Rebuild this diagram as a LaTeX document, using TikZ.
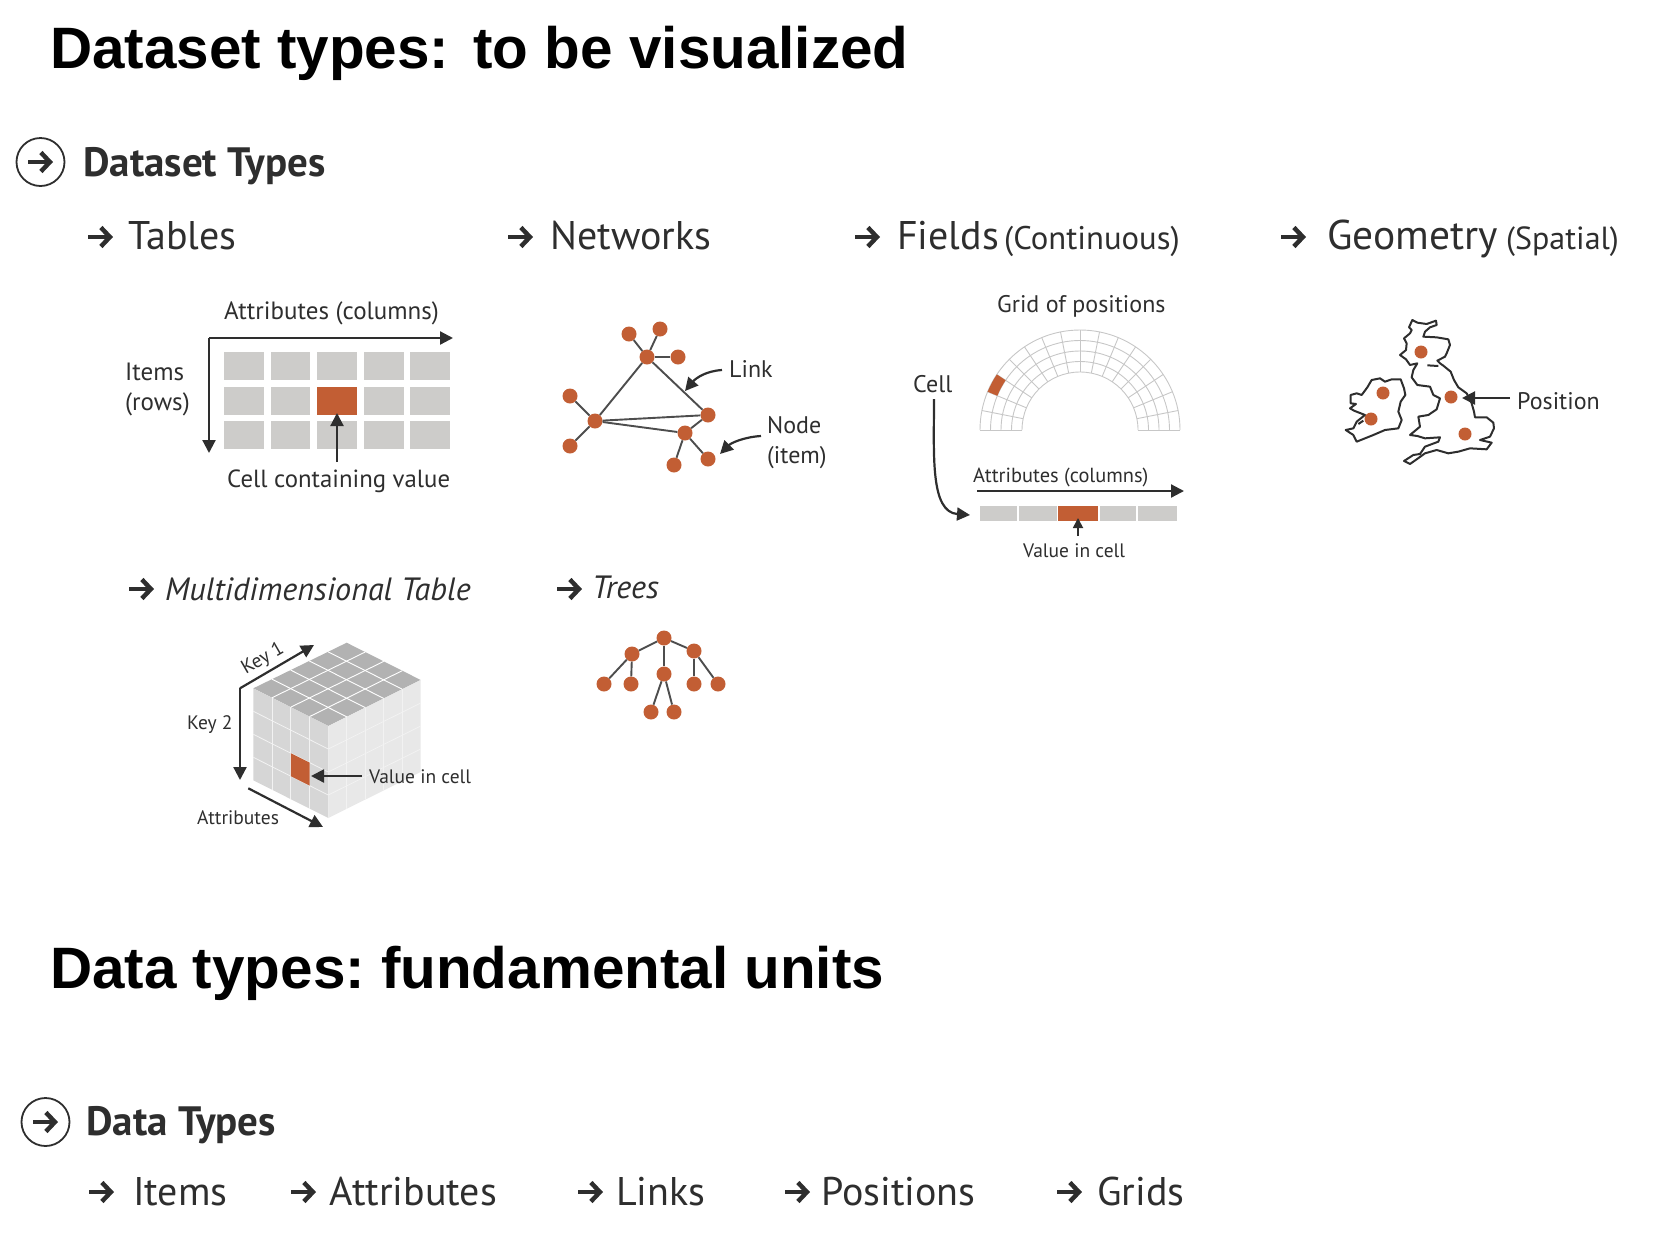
\documentclass[tikz,border=0pt]{standalone}
\usepackage{fontspec}
\setmainfont{PT Sans}
\newfontfamily\titlefont{Liberation Sans}
\usetikzlibrary{arrows.meta,calc,positioning}
\definecolor{cellorange}{HTML}{C25E34}
\definecolor{cellgray}{HTML}{CDCCCA}
\definecolor{inkdark}{HTML}{2E2E2E}
\newcommand{\fsz}[1]{\fontsize{#1}{#1}\selectfont}
\frenchspacing
\tikzset{
  txt/.style={anchor=base west,inner sep=0pt,text=inkdark},
  slidetitle/.style={txt,text=black,font=\titlefont\bfseries\fsz{58.4}},
  mainhead/.style={txt,font=\bfseries\fsz{41}},
  subhead/.style={txt,font=\fsz{40}},
  subnote/.style={txt,font=\fsz{32}},
  ithead/.style={txt,font=\itshape\fsz{32.2}},
  lbl/.style={txt,font=\fsz{24}},
  widelbl/.style={txt,font=\fsz{25}},
  smalllbl/.style={txt,font=\fsz{19.5}},
  dot/.style={circle,fill=cellorange,inner sep=0pt,minimum size=15pt},
  bigring/.style={circle,draw=inkdark,line width=1.8pt,minimum size=48pt,inner sep=0pt},
  bulletarrow/.style={line width=4.5pt,-{Straight Barb[length=9pt,width=19pt,line width=4.5pt]},draw=inkdark},
  axisarrow/.style={line width=2.2pt,draw=inkdark,-{Triangle[length=13pt,width=13pt]}},
  thinarrow/.style={line width=1.8pt,draw=inkdark,-{Triangle[length=10pt,width=10pt]}},
  edge/.style={line width=1.9pt,draw=inkdark!85},
  coast/.style={line width=2pt,draw=inkdark,line join=round},
  cubeline/.style={line width=0.9pt,draw=white},
  sideline/.style={line width=0.8pt,draw=black!5},
  gridline/.style={line width=0.9pt,draw=black!22},
}
\begin{document}
\begin{tikzpicture}[x=1pt,y=-1pt]
\useasboundingbox (0,0) rectangle (1672,1232);

  % Titles
  \node[slidetitle] (title1) at (50,68) {Dataset types:\hspace{8pt} to be visualized};
  \node[slidetitle] (title2) at (50,988) {Data types: fundamental units};

  % Section heads
  \node[bigring] (ring1) at (40.5,162) {};
  \draw[bulletarrow] (28,162) -- (53,162);
  \node[mainhead] (dataset) at (83,176) {Dataset Types};
  \node[bigring] (ring2) at (45.5,1122) {};
  \draw[bulletarrow] (33,1122) -- (58,1122);
  \node[mainhead] (datatypes) at (86,1135) {Data Types};

  % Bullet arrows
  \foreach \x/\y in {88/237,508/237,855/237,1281/237,129/589,557/589,89/1192,291/1192,578/1192,785/1192,1057/1192}
    \draw[bulletarrow] (\x,\y) -- ++(25,0);

  \node[subhead] (tables) at (128,249) {Tables};
  \node[subhead] (networks) at (550,249) {Networks};
  \node[subhead] (fields) at (897,249) {Fields};
  \node[subnote,font=\fsz{32.7}] (fieldsnote) at (1004,249) {(Continuous)};
  \node[subhead,font=\fsz{41.5}] (geometry) at (1327,249) {Geometry};
  \node[subnote] (geonote) at (1506,249) {(Spatial)};
  \node[ithead] (multitable) at (165,600) {Multidimensional Table};
  \node[ithead] (trees) at (592,598) {Trees};

  \node[subhead] (items) at (133,1205) {Items};
  \node[subhead] (attrs) at (329,1205) {Attributes};
  \node[subhead] (links) at (616,1205) {Links};
  \node[subhead] (positions) at (821,1205) {Positions};
  \node[subhead] (grids) at (1097,1205) {Grids};

  % Table (left)
  \foreach \xa/\xb in {224/263.5,271/310,317/357,364/404,410/450}
    \foreach \ya/\yb in {352/380,387/415,421/449}
      \fill[cellgray] (\xa,\ya) rectangle (\xb,\yb);
  \fill[cellorange] (317,387) rectangle (357,415);
  \coordinate (corner) at (209,338);
  \coordinate (colend) at (453,338);
  \coordinate (rowend) at (209,453);
  \draw[axisarrow] (corner) -- (colend);
  \draw[axisarrow] (corner) -- (rowend);
  \coordinate (cellfrom) at (337,462);
  \coordinate (cellto) at (337,413);
  \draw[axisarrow] (cellfrom) -- (cellto);
  \node[widelbl] (tabcols) at (224,319) {Attributes (columns)};
  \node[widelbl] (tabitems) at (125,380) {Items};
  \node[widelbl] (tabrows) at (125,410) {(rows)};
  \node[lbl,font=\fsz{24.8}] (tabcell) at (227,487) {Cell containing value};

  % Network
  \foreach \n/\x/\y in {a/629/334,b/660/329,c/647/357,d/678/357,e/570/396,f/595/421,g/570/446,h/708/415,i/685/433,j/708/459,k/674/465}
    \node[dot] (net\n) at (\x,\y) {};
  \foreach \p/\q in {a/c,b/c,c/d,c/f,c/h,f/h,f/i,e/f,f/g,h/i,i/j,i/k}
    \draw[edge] (net\p) -- (net\q);
  \node[lbl] (linklbl) at (729,377) {Link};
  \node[lbl] (nodelbl) at (767,433) {Node};
  \node[lbl] (itemlbl) at (767,463) {(item)};
  \coordinate (linkfrom) at (722,370);
  \coordinate (linkto) at (685,391);
  \coordinate (nodefrom) at (761,436);
  \coordinate (nodeto) at (720,454);
  \draw[axisarrow] (linkfrom) .. controls (706,371) and (696,378) .. (linkto);
  \draw[axisarrow] (nodefrom) .. controls (744,437) and (731,443) .. (nodeto);

  % Field
  \begin{scope}[shift={(1080,430)},yscale=-1]
    \foreach \r in {58,68.5,79,89.5,100}
      \draw[gridline] (0:\r) arc (0:180:\r);
    \foreach \a in {0,11.25,...,180}
      \draw[gridline] (\a:58) -- (\a:100);
    \fill[cellorange] (146.25:89.5) arc (146.25:157.5:89.5) -- (157.5:100) arc (157.5:146.25:100) -- cycle;
  \end{scope}
  \foreach \xa/\xb in {980/1017,1019/1057,1100/1136,1138/1177}
    \fill[cellgray] (\xa,506) rectangle (\xb,521);
  \fill[cellorange] (1058,506) rectangle (1098,521);
  \node[lbl] (gridlbl) at (997,312) {Grid of positions};
  \node[lbl] (celllbl) at (913,392) {Cell};
  \node[txt,font=\fsz{20.4}] (fieldcols) at (973,482) {Attributes (columns)};
  \node[smalllbl] (fieldval) at (1023,557) {Value in cell};
  \coordinate (cellstart) at (934,399);
  \coordinate (cellend) at (970,515);
  \draw[axisarrow] (cellstart) .. controls (934,455) and (930,512) .. (cellend);
  \coordinate (colfrom) at (977,491);
  \coordinate (colto) at (1184,491);
  \draw[axisarrow] (colfrom) -- (colto);
  \coordinate (valfrom) at (1078,536);
  \coordinate (valto) at (1078,518);
  \draw[thinarrow] (valfrom) -- (valto);

  % Geometry
  \begin{scope}[shift={(1330,300)},x=0.3333pt,y=-0.3333pt]
    \draw[coast] (247,60) -- (262,68) -- (290,72) -- (318,62) -- (320,75) -- (300,82) -- (285,95) -- (280,110)
      -- (320,112) -- (355,118) -- (360,135) -- (350,160) -- (345,170) -- (322,182) -- (330,190)
      -- (340,197) -- (362,215) -- (372,240) -- (385,262) -- (410,280) -- (425,310) -- (432,335) -- (435,352)
      -- (470,352) -- (490,368) -- (492,385) -- (480,410) -- (450,420) -- (485,428) -- (470,448) -- (420,445)
      -- (385,455) -- (355,460) -- (320,450) -- (285,460) -- (260,478) -- (240,492) -- (222,483) -- (250,465)
      -- (270,462) -- (285,440) -- (325,425) -- (330,412) -- (285,415) -- (262,408) -- (240,405) -- (270,380)
      -- (265,350) -- (295,345) -- (320,328) -- (330,295) -- (310,285) -- (300,260) -- (262,255) -- (245,232)
      -- (250,210) -- (262,190) -- (240,195) -- (228,178) -- (210,165) -- (228,150) -- (230,130) -- (222,115)
      -- (240,100) -- (245,90) -- (237,82) -- cycle;
    \draw[coast] (292,196) -- (325,198);
    \draw[coast] (112,262) -- (125,240) -- (150,235) -- (165,245) -- (185,238) -- (212,238) -- (222,265) -- (226,285) -- (212,305)
      -- (205,335) -- (215,360) -- (205,385) -- (165,390) -- (130,405) -- (80,425) -- (70,405) -- (47,390)
      -- (70,385) -- (80,365) -- (105,345) -- (72,332) -- (60,325) -- (78,312) -- (62,310) -- (62,285)
      -- (80,280) -- (95,285) -- cycle;
    \draw[coast] (85,372) -- (100,362);
  \end{scope}
  \foreach \n/\x/\y in {a/1421/352,b/1383/393,c/1371/419,d/1451/397,e/1465/434}
    \node[dot,minimum size=13pt] (pos\n) at (\x,\y) {};
  \node[lbl] (poslbl) at (1517,409) {Position};
  \coordinate (posfrom) at (1510,398);
  \coordinate (posto) at (1462,398);
  \draw[axisarrow] (posfrom) -- (posto);

  % Cube
  \coordinate (cl) at (253.3,688.3);
  \coordinate (cf) at (328.3,726);
  \coordinate (cr) at (420.7,680);
  \coordinate (cb) at (346.7,642.7);
  \coordinate (clb) at (253.3,780.3);
  \coordinate (cfb) at (328.3,818);
  \coordinate (crb) at (420.7,772);
  \fill[black!30] (cl) -- (cf) -- (cr) -- (cb) -- cycle;
  \fill[black!16] (cl) -- (cf) -- (cfb) -- (clb) -- cycle;
  \fill[black!9] (cf) -- (cr) -- (crb) -- (cfb) -- cycle;
  \foreach \i in {1,2,3} {
    \draw[cubeline] ($(cl)!\i/4!(cf)$) -- ($(cb)!\i/4!(cr)$);
    \draw[sideline] ($(cl)!\i/4!(cf)$) -- ($(clb)!\i/4!(cfb)$);
    \draw[sideline] ($(cl)!\i/4!(clb)$) -- ($(cf)!\i/4!(cfb)$);
    \draw[sideline] ($(cf)!\i/4!(cfb)$) -- ($(cr)!\i/4!(crb)$);
  }
  \foreach \i in {1,2,3,4} {
    \draw[cubeline] ($(cl)!\i/5!(cb)$) -- ($(cf)!\i/5!(cr)$);
    \draw[sideline] ($(cf)!\i/5!(cr)$) -- ($(cfb)!\i/5!(crb)$);
  }
  \fill[cellorange] (290.8,753.2) -- (309.5,762.6) -- (309.5,785.6) -- (290.8,776.2) -- cycle;
  \coordinate (keycorner) at (240,688.3);
  \coordinate (keyoneend) at (314,645);
  \coordinate (keytwoend) at (240,780);
  \coordinate (attrfrom) at (248.3,788.3);
  \coordinate (attrto) at (323,827);
  \coordinate (cubefrom) at (362,776);
  \coordinate (cubeto) at (311,776);
  \draw[axisarrow] (keycorner) -- (keyoneend);
  \draw[axisarrow] (keycorner) -- (keytwoend);
  \draw[axisarrow] (attrfrom) -- (attrto);
  \draw[axisarrow] (cubefrom) -- (cubeto);
  \node[smalllbl,anchor=center,rotate=30] (keyone) at (263,659) {Key 1};
  \node[smalllbl] (keytwo) at (187,729) {Key 2};
  \node[smalllbl] (cubeattr) at (197,824) {Attributes};
  \node[smalllbl] (cubeval) at (369,783) {Value in cell};

  % Trees
  \foreach \n/\x/\y in {r/664/638,a/632/654,b/694/651,c/664/674,d/604/684,e/631/684,f/694/684,g/718/684,h/651/712,i/674/712}
    \node[dot] (tree\n) at (\x,\y) {};
  \foreach \p/\q in {r/a,r/b,r/c,a/d,a/e,b/f,b/g,c/h,c/i}
    \draw[edge] (tree\p) -- (tree\q);

\end{tikzpicture}
\end{document}
